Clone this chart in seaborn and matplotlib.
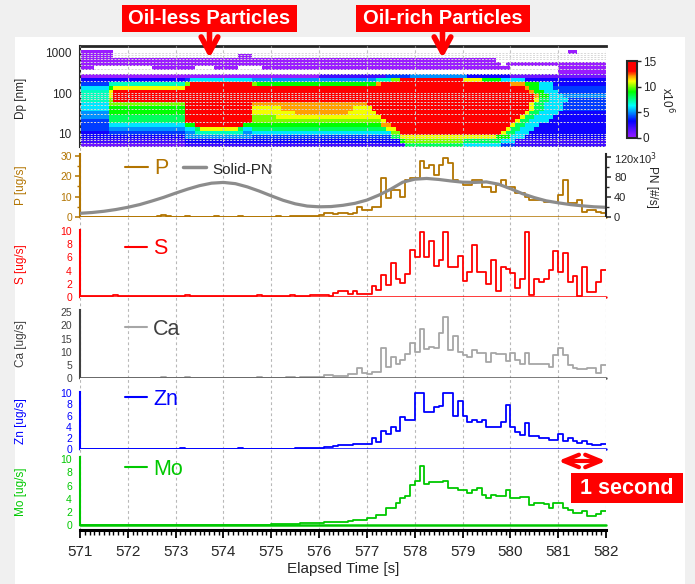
import numpy as np
import matplotlib.pyplot as plt
import seaborn as sns
from matplotlib.colors import LinearSegmentedColormap
from matplotlib.lines import Line2D
from matplotlib.patches import Rectangle, FancyArrowPatch
from matplotlib.ticker import LogLocator, NullFormatter, MultipleLocator

sns.set_style('white')
plt.rcParams['font.family'] = ['Liberation Sans', 'DejaVu Sans']

W, H = 695, 584

# ---------------- data ----------------
# 0.1 s bins from 571 to 582 s
t_edges = np.round(571.0 + 0.1 * np.arange(111), 1)

p_vals = [0.2, 0.2, 0.2, 0.2, 0.2, 0.2, 0.2, 0.2, 0.2, 0.2,
          0.2, 0.2, 0.2, 0.2, 0.2, 0.2, 0.3, 0.9, 0.4, 0.2,
          0.2, 0.2, 0.3, 0.2, 0.2, 0.2, 0.2, 0.2, 0.3, 0.2,
          0.2, 0.2, 0.2, 0.3, 0.2, 0.2, 0.2, 0.2, 0.2, 0.2,
          0.2, 0.3, 0.2, 0.2, 0.3, 0.4, 0.3, 0.3, 0.5, 0.6,
          1.0, 2.0, 2.0, 1.5, 1.8, 1.8, 1.5, 1.8, 5.1, 3.4,
          3.4, 5.1, 5.1, 19.0, 9.2, 13.3, 13.3, 10.0, 18.2, 19.0,
          19.0, 27.5, 24.0, 25.6, 20.7, 25.6, 28.9, 26.4, 18.2, 17.4,
          15.7, 15.7, 18.2, 18.2, 14.9, 14.9, 12.5, 15.7, 18.2, 14.9,
          14.9, 11.6, 11.6, 10.0, 8.4, 8.4, 8.4, 7.5, 7.5, 7.5,
          10.8, 18.2, 6.7, 6.7, 8.4, 2.6, 3.4, 3.4, 2.6, 1.8]

s_vals = [0.1, 0.1, 0.1, 0.1, 0.1, 0.1, 0.1, 0.3, 0.1, 0.1,
          0.1, 0.1, 0.1, 0.1, 0.1, 0.1, 0.1, 0.1, 0.1, 0.1,
          0.1, 0.2, 0.3, 0.1, 0.1, 0.1, 0.1, 0.1, 0.1, 0.1,
          0.1, 0.1, 0.1, 0.1, 0.1, 0.1, 0.1, 0.3, 0.1, 0.1,
          0.1, 0.1, 0.1, 0.2, 0.3, 0.1, 0.1, 0.1, 0.3, 0.3,
          0.3, 0.3, 0.2, 0.6, 0.95, 0.95, 0.45, 0.85, 0.5, 0.5,
          0.5, 1.67, 1.06, 3.4, 1.8, 5.1, 2.8, 2.1, 3.5, 7.1,
          6.0, 9.9, 6.1, 8.5, 4.7, 5.6, 9.9, 4.6, 4.6, 6.2,
          2.4, 3.8, 7.9, 3.8, 3.8, 2.0, 5.6, 0.95, 4.6, 4.3,
          3.7, 1.4, 2.8, 9.9, 0.3, 2.7, 2.2, 2.7, 4.1, 7.0,
          3.8, 6.7, 2.2, 3.2, 0.2, 4.5, 0.7, 0.7, 2.2, 4.1]

ca_vals = [0.1, 0.1, 0.1, 0.1, 0.1, 0.1, 0.1, 0.1, 0.1, 0.1,
           0.1, 0.1, 0.1, 0.1, 0.1, 0.1, 0.1, 0.3, 0.1, 0.1,
           0.1, 0.1, 0.2, 0.1, 0.1, 0.1, 0.1, 0.1, 0.1, 0.1,
           0.1, 0.1, 0.1, 0.1, 0.1, 0.1, 0.1, 0.2, 0.1, 0.1,
           0.1, 0.1, 0.1, 0.2, 0.2, 0.1, 0.2, 0.2, 0.3, 0.4,
           0.5, 1.0, 1.0, 0.8, 0.8, 0.8, 1.5, 1.5, 3.9, 1.8,
           1.5, 2.4, 2.4, 11.5, 4.2, 8.1, 5.3, 6.8, 9.1, 13.4,
           10.0, 18.6, 11.0, 11.9, 11.3, 17.0, 23.3, 10.5, 16.0, 10.0,
           8.7, 8.1, 10.6, 9.6, 9.6, 6.2, 9.4, 9.1, 9.1, 6.6,
           9.4, 6.8, 5.3, 9.4, 5.3, 5.3, 5.2, 5.2, 4.3, 8.7,
           11.3, 8.7, 4.8, 3.8, 3.4, 3.4, 3.8, 3.8, 1.8, 4.9]

zn_vals = [0.1, 0.1, 0.1, 0.1, 0.1, 0.1, 0.1, 0.1, 0.1, 0.1,
           0.1, 0.1, 0.1, 0.1, 0.1, 0.1, 0.1, 0.1, 0.1, 0.1,
           0.1, 0.3, 0.1, 0.1, 0.1, 0.1, 0.1, 0.1, 0.1, 0.1,
           0.1, 0.1, 0.1, 0.2, 0.1, 0.1, 0.1, 0.1, 0.1, 0.1,
           0.1, 0.1, 0.1, 0.1, 0.1, 0.2, 0.2, 0.2, 0.3, 0.3,
           0.3, 0.4, 0.4, 0.6, 0.7, 0.7, 0.7, 0.95, 0.95, 0.95,
           0.95, 2.1, 1.3, 3.3, 2.7, 4.0, 3.3, 5.8, 5.2, 5.2,
           10.0, 10.0, 6.7, 6.7, 7.5, 7.8, 10.0, 10.0, 6.0, 8.6,
           6.0, 4.8, 5.3, 4.8, 5.2, 4.0, 4.0, 4.0, 4.9, 7.9,
           4.0, 3.1, 2.6, 4.7, 2.4, 2.4, 2.0, 2.0, 1.7, 1.7,
           2.7, 1.5, 2.1, 1.4, 1.1, 1.4, 0.9, 0.7, 0.7, 0.9]

mo_vals = [0.1, 0.1, 0.1, 0.1, 0.1, 0.1, 0.1, 0.1, 0.1, 0.1,
           0.1, 0.1, 0.1, 0.1, 0.1, 0.1, 0.1, 0.1, 0.1, 0.1,
           0.1, 0.1, 0.1, 0.1, 0.1, 0.1, 0.1, 0.1, 0.1, 0.1,
           0.1, 0.1, 0.1, 0.1, 0.1, 0.1, 0.1, 0.1, 0.1, 0.1,
           0.15, 0.15, 0.2, 0.2, 0.25, 0.25, 0.3, 0.3, 0.35, 0.35,
           0.4, 0.45, 0.5, 0.5, 0.55, 0.55, 0.6, 0.8, 0.8, 0.8,
           1.05, 1.05, 1.55, 1.55, 2.65, 2.65, 3.3, 4.07, 4.4, 6.1,
           6.7, 8.9, 6.3, 6.6, 6.6, 6.6, 6.7, 5.6, 5.6, 5.3,
           5.3, 4.8, 5.3, 5.6, 4.5, 4.1, 4.5, 4.4, 4.4, 5.3,
           4.1, 4.1, 4.3, 4.3, 3.1, 3.4, 3.4, 3.2, 2.6, 3.3,
           3.3, 2.6, 2.3, 1.9, 1.9, 2.2, 1.4, 1.4, 1.7, 2.1]

# solid particle number, 10^3 #/s, every 0.25 s
pn_time = np.round(571.0 + 0.25 * np.arange(45), 2)
pn_vals = [7.4, 9, 11.5, 15, 19.5, 25, 32, 39.5, 48, 56,
           63, 68, 69.5, 67, 60.5, 52, 42.5, 33.5, 26.5, 22,
           20.5, 21, 23.5, 27.5, 34, 44, 56, 70, 76, 77.5,
           75.5, 72.5, 70, 69.5, 70.5, 66, 57, 47, 39, 32.5,
           28.5, 25, 22.5, 20.5, 19.5]

# size-bin edges [nm], top to bottom
dp_edges = [1489, 1183, 940, 747, 593, 471, 374, 297, 236, 188, 149, 118, 94,
            75, 59, 47, 37.4, 29.7, 23.6, 18.8, 14.9, 11.8, 9.4, 7.5, 5.9, 4.7]

# dN/dlogDp in 1e6 units, hex level per 0.1 s column ('.' = no data), rows top to bottom
dist_rows = [
    ".......... .......... .......... .......... .......... .......... .......... .......... .......... .......... ..........",
    "0000000... .......... .......... .......... .......... .......... .......... .......... .......... .......... ..00......",
    "0000000... .......... .......... ...000.... .......... .......... .......... .......... .......... .......... ..........",
    "0000000000 0000000000 0000000000 0000000000 0000000000 0000000000 0000000000 0000000000 0000000... .......... ..........",
    "0000000000 0000000000 0000000000 0000000000 0000000000 0000000000 0000000000 0000000000 00000000.0 0000000000 0000000000",
    "000....... .....00000 0000....00 000.....00 0000000000 0000000000 0000000000 0000000000 0000000000 .......... 0000000000",
    ".......... .......... .......... .......... .......... .......... .......... .......... .......... .......... 0000000000",
    "0000000000 0000000000 0000000000 0000000000 0000000000 2222222222 2222444445 5555555555 5333333333 1111111111 1111111111",
    "3333333333 3333333333 3346666666 6666665555 5555555555 5555555555 55777aaeee eeeeeeeeee bbbb999966 6663333333 3333333333",
    "4444447777 7777777777 77aeeeeeee eeeeeea999 9999999999 9999999999 99ceeeeeee eeeeeeeeee eeeeeeeeee ccc9996663 3333333333",
    "6666669bbb bbbbbbbbbb bbeeeeeeee eeeeeeeeee eeeeeeeeee eeeeeeeeee eeeeeeeeee eeeeeeeeee eeeeeeeeee eeec996664 4444444444",
    "777777beee eeeeeeeeee eeeeeeeeee eeeeeeeeee eeeeeeeeee eeeeeeeeee eeeeeeeeee eeeeeeeeee eeeeeeeeee eeeec99666 4444444444",
    "777777beee eeeeeeeeee eeeeeeeeee eeeeeeeeee eeeeeeeeee eeeeeeeeee eeeeeeeeee eeeeeeeeee eeeeeeeeee eeeeec9966 6555555555",
    "777777aeee eeeeeeeeee eeeeeeeeee eeeeeeeeee eeeeeeeeee eeeeeeeeee eeeeeeeeee eeeeeeeeee eeeeeeeeee eeeeeb8866 6644444444",
    "666666aaaa aaaaaaaaaa aaeeeeeeee eeeeeecccc cccccccccc cccccccccc eeeeeeeeee eeeeeeeeee eeeeeeeeee eeeeb88666 6444444444",
    "6666669999 9999999999 99eeeeeeee eeeeeebbbb bbcccccccc cccccccbbb beeeeeeeee eeeeeeeeee eeeeeeeeee eeeeb88666 6444444444",
    "5555559999 9999999999 99eeeeeeee eeeeeebbbb bbbbbccccc ccccccbbbb bbeeeeeeee eeeeeeeeee eeeeeeeeee eeeb886666 3333333333",
    "5555558888 8888888888 88eeeeeeee eeeeeeaaaa abbbbbbbbb bbbbbbbbbb bbbeeeeeee eeeeeeeeee eeeeeeeeee eeb8866663 3333333333",
    "4444448888 8888888888 88deeeeeee eeeeedaaaa aaaaaaaaaa aaaaaaaaaa aaabeeeeee eeeeeeeeee eeeeeeeeee eb88666633 3333333333",
    "4444446666 6666666666 6699eeeeee eeee999999 9999999999 9999999999 999cceeeee eeeeeeeeee eeeeeeeeee b886663333 3333333333",
    "4444445555 5555555555 55668bbbbb bbb8668888 8888888888 8888888888 8888bbeeee eeeeeeeeee eeeeeeeeeb 8866633333 3333333333",
    "3333334444 4444444444 4455777777 7777556666 6666666666 6666666666 66666aaeee eeeeeeeeee eeeeeeeeb8 8666333333 3333333333",
    "3333333333 3333333333 3355555555 5555554444 4444444444 4444444444 4444488bbb bbbbbbbbbb bbbbbbb999 6663333333 3333333333",
    "2222222222 2222222222 2233333333 3333333333 3333333333 3333333333 33333339aa aaaaaaaaaa 8888888866 6222222222 2222222222",
    "1111111111 1111111111 1122222222 2222222222 2222222222 2222222222 2222222288 8888888888 6666666644 4222222222 2222222222",
]

dist = np.array([[np.nan if ch == '.' else int(ch, 16) for ch in row.replace(' ', '')]
                 for row in dist_rows], dtype=float)

# ---------------- figure ----------------
fig = plt.figure(figsize=(W / 100, H / 100), dpi=100, facecolor='#f0f0f0')
fig.add_artist(Rectangle((15 / W, 0), 670 / W, 547 / H, transform=fig.transFigure,
                         facecolor='white', edgecolor='none', zorder=-10))


def px_axes(left, top, right, bottom):
    return fig.add_axes([left / W, 1 - bottom / H, (right - left) / W, (bottom - top) / H])


def fxy(x, y):
    return (x / W, 1 - y / H)


grid_kw = dict(color='#b8b8b8', linestyle=(0, (2.5, 2.5)), linewidth=0.8)
seconds = np.arange(571, 583)
label_x = -0.1008
tick_size = 7.5

cmap = LinearSegmentedColormap.from_list('igor_rainbow', [
    (0.0, '#9a1cff'), (0.1, '#5a10ff'), (0.22, '#0000ff'), (0.42, '#00ffff'),
    (0.6, '#00ff00'), (0.74, '#ffff00'), (0.8, '#ffa000'), (0.87, '#ff0000'),
    (1.0, '#ff0000')])

# size distribution
ax_hm = px_axes(80, 45.7, 606, 147)
mesh = ax_hm.pcolormesh(t_edges, dp_edges, dist, cmap=cmap, vmin=0, vmax=15, shading='flat')
ax_hm.set_yscale('log')
ax_hm.set_xlim(571, 582)
ax_hm.set_ylim(dp_edges[-1], dp_edges[0])
ax_hm.set_yticks([10, 100, 1000])
ax_hm.set_yticklabels(['10', '100', '1000'])
ax_hm.yaxis.set_minor_locator(LogLocator(base=10, subs=np.arange(2, 10)))
ax_hm.yaxis.set_minor_formatter(NullFormatter())
ax_hm.set_xticks(seconds)
ax_hm.tick_params(axis='x', length=0, labelbottom=False)
ax_hm.tick_params(axis='y', which='major', direction='out', length=4, width=1.1, labelsize=8.5, pad=2)
ax_hm.tick_params(axis='y', which='minor', direction='out', length=2.3, width=1)
ax_hm.set_axisbelow(False)
ax_hm.grid(axis='y', which='both', color='#d8d8d8', linestyle=(0, (2, 1.5)), linewidth=0.7)
ax_hm.grid(axis='x', which='major', color='#c4c4c4', linestyle=(0, (2.5, 2.5)), linewidth=0.8)
for side in ['right', 'bottom']:
    ax_hm.spines[side].set_visible(False)
ax_hm.spines['top'].set_linewidth(2)
ax_hm.spines['left'].set_linewidth(1.5)
ax_hm.set_ylabel('Dp [nm]', fontsize=8.5)
ax_hm.yaxis.set_label_coords(label_x, 0.48)

cax = px_axes(627, 61, 637, 138)
cb = fig.colorbar(mesh, cax=cax, ticks=[0, 5, 10, 15])
cb.outline.set_linewidth(1.5)
cax.tick_params(labelsize=8.5, length=3, width=1, pad=1)
cb.set_label(r'x10$^{6}$', rotation=270, fontsize=8.5, labelpad=14)


def element_panel(top, bottom, vals, ylim, line_color, axis_color, zero_color,
                  major, minor, spine_top, ylabel, label_y, name, name_color, legend_y):
    ax = px_axes(80, top, 606, bottom)
    y = np.append(vals, vals[-1])
    sns.lineplot(x=t_edges, y=y, drawstyle='steps-post', color=line_color, linewidth=1.3,
                 estimator=None, sort=False, ax=ax)
    ax.axhline(0, color=zero_color, linewidth=1.8, clip_on=False, zorder=3)
    ax.set_xlim(571, 582)
    ax.set_ylim(*ylim)
    ax.set_xticks(seconds)
    ax.tick_params(axis='x', length=0, labelbottom=False)
    ax.grid(axis='x', **grid_kw)
    ax.set_yticks(major)
    ax.set_yticks(minor, minor=True)
    ax.tick_params(axis='y', which='major', direction='out', length=3.8, width=1.1,
                   color=axis_color, labelcolor=axis_color, labelsize=tick_size, pad=2)
    ax.tick_params(axis='y', which='minor', direction='out', length=2.2, width=1, color=axis_color)
    for side in ['top', 'right', 'bottom']:
        ax.spines[side].set_visible(False)
    ax.spines['left'].set_color(axis_color)
    ax.spines['left'].set_linewidth(1.5)
    ax.spines['left'].set_bounds(0, spine_top)
    ax.set_xlabel('')
    ax.set_ylabel(ylabel, color=axis_color, fontsize=8.5)
    ax.yaxis.set_label_coords(label_x, label_y)
    leg = ax.legend(handles=[Line2D([], [], color=line_color, linewidth=1.5)], labels=[name],
                    loc='center left', bbox_to_anchor=(0.0856, legend_y), frameon=False,
                    fontsize=15.5, handlelength=1.0, handletextpad=0.3, borderpad=0, borderaxespad=0)
    leg.get_texts()[0].set_color(name_color)
    return ax


p_color = '#b27400'
ax_p = element_panel(147, 217, p_vals, (0, 34.4), p_color, p_color, p_color,
                     [0, 10, 20, 30], [5, 15, 25], 31, 'P [ug/s]', 0.457, 'P', p_color, 0.686)
ax_p.get_legend().remove()

ax_pn = ax_p.twinx()
sns.lineplot(x=pn_time, y=pn_vals, color='#8c8c8c', linewidth=2.3, estimator=None, sort=False, ax=ax_pn)
ax_pn.set_ylim(0, 140.7)
ax_pn.set_xlim(571, 582)
ax_pn.set_yticks([0, 40, 80, 120])
ax_pn.set_yticklabels(['0', '40', '80', r'120x10$^{3}$'])
ax_pn.set_yticks([20, 60, 100], minor=True)
ax_pn.tick_params(axis='y', which='major', direction='out', length=3.8, width=1.1, labelsize=8, pad=2)
ax_pn.tick_params(axis='y', which='minor', direction='out', length=2.2, width=1)
for side in ['top', 'left', 'bottom']:
    ax_pn.spines[side].set_visible(False)
ax_pn.spines['right'].set_linewidth(1.5)
ax_pn.spines['right'].set_bounds(0, 126)
ax_pn.set_ylabel('PN [#/s]', rotation=270, fontsize=8.5)
ax_pn.yaxis.set_label_coords(1.099, 0.43)
leg = ax_pn.legend(handles=[Line2D([], [], color=p_color, linewidth=1.5),
                            Line2D([], [], color='#8c8c8c', linewidth=2.5)],
                   labels=['P', 'Solid-PN'], ncol=2, loc='center left',
                   bbox_to_anchor=(0.0856, 0.686), frameon=False, fontsize=15.5,
                   handlelength=1.05, handletextpad=0.3, columnspacing=0.7,
                   borderpad=0, borderaxespad=0)
leg.get_texts()[0].set_color(p_color)
leg.get_texts()[1].set_fontsize(11)

ax_s = element_panel(217, 297, s_vals, (0, 12.12), '#ff0000', '#ff0000', '#ff0000',
                     np.arange(0, 11, 2), np.arange(1, 10, 2), 10.2, 'S [ug/s]', 0.41, 'S', '#ff0000', 0.60)
ax_ca = element_panel(297, 378, ca_vals, (0, 30.8), '#a6a6a6', '#404040', '#555555',
                      np.arange(0, 26, 5), np.arange(2.5, 25, 5), 25.7, 'Ca [ug/s]', 0.42, 'Ca', '#404040', 0.60)
ax_zn = element_panel(378, 449.3, zn_vals, (0, 12.73), '#0000ff', '#0000ff', '#0000ff',
                      np.arange(0, 11, 2), np.arange(1, 10, 2), 10.3, 'Zn [ug/s]', 0.40, 'Zn', '#0000ff', 0.70)
mo_color = '#00c800'
ax_mo = element_panel(449.3, 530, mo_vals, (-0.71, 11.46), mo_color, mo_color, mo_color,
                      np.arange(0, 11, 2), np.arange(1, 10, 2), 10.3, 'Mo [ug/s]', 0.48, 'Mo', mo_color, 0.752)

# bottom time axis
ax_mo.spines['bottom'].set_visible(True)
ax_mo.spines['bottom'].set_color('black')
ax_mo.spines['bottom'].set_linewidth(2.2)
ax_mo.xaxis.set_minor_locator(MultipleLocator(0.1))
ax_mo.tick_params(axis='x', which='major', direction='out', length=6, width=1.3, color='black',
                  labelbottom=True, labelsize=11, pad=5)
ax_mo.tick_params(axis='x', which='minor', direction='out', length=3.6, width=1, color='black', bottom=True)
ax_mo.tick_params(axis='x', which='major', bottom=True)
ax_mo.set_xlabel('Elapsed Time [s]', fontsize=11, labelpad=2)

# 1 second marker
ax_mo.annotate('', xy=(582, 9.7), xytext=(581, 9.7), annotation_clip=False,
               arrowprops=dict(arrowstyle='<->,head_length=1.1,head_width=0.45', color='red',
                               lw=3, shrinkA=0, shrinkB=0, mutation_scale=10))
fig.add_artist(Rectangle(fxy(571, 503), 112 / W, 30 / H, transform=fig.transFigure,
                         facecolor='#ff0000', edgecolor='none'))
fig.text(*fxy(627, 488.5), '1 second', color='white', fontsize=15.5, fontweight='bold',
         ha='center', va='center')

# particle labels
for x0, x1, label, ax_x in [(122, 297, 'Oil-less Particles', 209.5),
                            (356, 530, 'Oil-rich Particles', 442.5)]:
    fig.add_artist(Rectangle(fxy(x0, 32), (x1 - x0) / W, 27 / H, transform=fig.transFigure,
                             facecolor='#ff0000', edgecolor='none'))
    fig.text(*fxy((x0 + x1) / 2, 18.5), label, color='white', fontsize=14.5, fontweight='bold',
             ha='center', va='center')
    fig.add_artist(FancyArrowPatch(fxy(ax_x, 31), fxy(ax_x, 58), transform=fig.transFigure,
                                   arrowstyle='->,head_length=1.1,head_width=0.6', mutation_scale=10,
                                   lw=4, color='#ff0000', shrinkA=0, shrinkB=0))

fig.savefig('out.png', dpi=100, facecolor=fig.get_facecolor())
